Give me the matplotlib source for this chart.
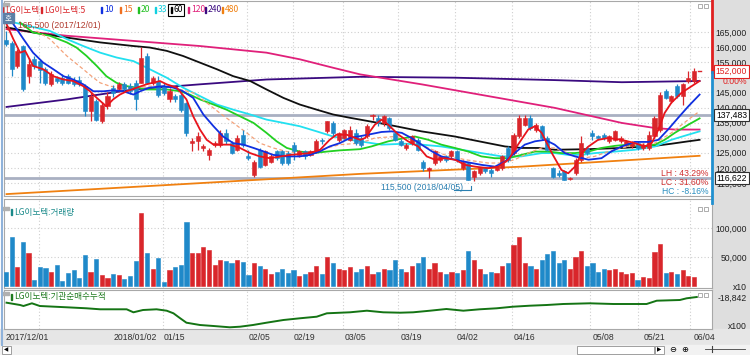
import numpy as np
import matplotlib
matplotlib.use("Agg")
import matplotlib.pyplot as plt
from matplotlib import font_manager
from matplotlib.font_manager import FontProperties
from matplotlib.patches import Rectangle, Polygon
from matplotlib.transforms import blended_transform_factory

# ---- daily candles (thousand won), 2017/12/01 .. 2018/06/04
opens_k = [162.4, 161.3, 153.8, 160.4, 150.4, 156.0, 155.5, 152.7, 147.7, 149.9,
           149.9, 150.4, 149.3, 149.3, 147.1, 138.8, 142.1, 135.5, 140.4, 146.6,
           146.0, 147.7, 147.1, 148.2, 148.2, 157.1, 148.2, 148.8, 147.1, 142.7,
           143.8, 144.3, 141.6, 128.2, 128.8, 126.6, 124.3, 127.7, 127.7, 131.6,
           128.2, 126.0, 131.0, 123.8, 117.7, 126.0, 121.0, 122.1, 125.5, 125.5,
           124.9, 127.7, 124.3, 125.5, 124.3, 125.5, 129.3, 132.1, 134.9, 129.3,
           130.0, 129.3, 131.6, 129.9, 130.4, 137.1, 136.6, 134.9, 136.6, 131.6,
           128.8, 126.6, 128.2, 129.3, 122.1, 119.3, 121.6, 122.7, 123.8, 123.8,
           125.5, 119.9, 121.6, 117.1, 118.2, 119.9, 119.3, 119.3, 119.9, 126.6,
           124.9, 130.4, 134.3, 136.6, 132.7, 133.8, 129.9, 119.9, 118.2, 118.8,
           116.3, 118.2, 122.7, 126.6, 131.6, 130.4, 131.0, 128.8, 129.3, 128.8,
           127.7, 127.1, 128.2, 126.6, 126.6, 130.4, 132.7, 145.5, 142.1, 147.1,
           143.8, 148.8, 148.8]
highs_k = [165.5, 162.0, 159.5, 160.8, 156.5, 157.1, 156.0, 153.5, 152.0, 150.5,
           151.0, 151.0, 150.0, 150.4, 147.7, 145.0, 143.0, 142.0, 145.0, 147.5,
           148.5, 148.5, 148.0, 149.0, 160.0, 158.0, 150.5, 150.5, 148.0, 146.5,
           144.5, 145.0, 142.0, 130.0, 132.0, 128.0, 126.5, 129.0, 132.5, 133.0,
           129.0, 131.0, 132.5, 126.0, 122.5, 126.5, 126.0, 124.5, 126.0, 126.0,
           125.5, 128.5, 126.0, 126.0, 126.0, 129.5, 130.0, 135.5, 135.5, 132.0,
           133.0, 134.0, 133.0, 130.5, 134.5, 138.0, 137.5, 137.6, 137.0, 132.0,
           129.5, 128.2, 131.0, 130.0, 122.7, 120.4, 126.0, 124.3, 124.3, 126.0,
           126.0, 122.7, 122.1, 119.3, 120.4, 120.4, 119.9, 121.0, 124.3, 127.2,
           131.6, 137.6, 137.6, 137.6, 135.0, 134.3, 130.4, 120.4, 119.3, 119.3,
           117.1, 123.2, 130.4, 127.2, 132.7, 131.0, 131.6, 131.0, 132.7, 130.4,
           129.3, 128.8, 128.8, 128.2, 132.1, 137.1, 145.0, 146.0, 144.3, 147.7,
           148.2, 152.1, 153.0]
lows_k = [160.5, 150.4, 153.0, 145.5, 148.2, 152.7, 148.2, 147.5, 147.0, 148.0,
          147.5, 147.7, 147.2, 147.0, 137.1, 135.5, 135.5, 135.0, 139.5, 143.5,
          145.0, 145.5, 144.5, 139.3, 148.0, 147.7, 147.5, 143.5, 144.0, 142.0,
          142.0, 138.5, 130.5, 125.5, 126.0, 125.5, 122.7, 127.0, 127.0, 128.0,
          124.5, 125.5, 127.0, 122.7, 117.1, 120.0, 120.5, 121.5, 122.5, 121.0,
          121.0, 122.7, 123.5, 123.0, 124.0, 125.0, 128.0, 131.5, 130.5, 128.5,
          129.5, 129.0, 127.5, 127.0, 130.0, 136.0, 134.0, 134.0, 132.5, 128.8,
          127.2, 126.0, 127.7, 125.5, 118.8, 116.5, 121.0, 122.1, 122.1, 123.2,
          122.1, 119.3, 116.0, 115.5, 117.7, 118.2, 117.1, 118.8, 119.3, 122.1,
          124.3, 130.0, 133.8, 132.5, 132.0, 129.3, 125.5, 116.5, 117.1, 116.0,
          116.0, 117.7, 122.1, 124.3, 129.3, 129.3, 129.3, 128.2, 128.8, 128.2,
          127.2, 126.6, 126.0, 126.0, 126.0, 130.0, 132.0, 142.7, 141.6, 143.2,
          141.0, 148.2, 148.2]
closes_k = [161.0, 152.7, 158.8, 146.0, 154.3, 153.8, 152.5, 148.2, 151.0, 148.8,
            148.2, 148.2, 147.7, 147.7, 138.8, 143.8, 136.0, 141.0, 143.8, 144.9,
            147.7, 146.0, 145.5, 142.7, 156.5, 148.2, 149.9, 144.3, 144.9, 145.5,
            142.7, 139.3, 131.6, 128.8, 130.5, 127.1, 126.0, 128.2, 131.6, 128.8,
            124.9, 129.9, 127.7, 123.2, 122.1, 120.4, 125.5, 123.8, 123.2, 121.6,
            121.6, 125.5, 125.5, 123.8, 125.5, 128.8, 128.8, 135.5, 131.6, 131.6,
            132.7, 132.7, 128.2, 127.7, 133.8, 137.6, 134.9, 137.1, 133.2, 129.3,
            127.7, 127.7, 130.4, 126.0, 119.9, 119.9, 125.5, 123.8, 122.7, 125.5,
            122.7, 122.1, 116.0, 118.8, 119.9, 118.8, 118.2, 120.4, 123.8, 122.7,
            131.0, 136.6, 136.6, 133.2, 134.3, 129.9, 126.0, 117.1, 117.7, 116.0,
            116.6, 122.7, 128.2, 124.9, 130.4, 129.9, 129.9, 130.4, 132.1, 129.9,
            128.8, 128.2, 126.6, 127.7, 131.0, 136.6, 144.3, 143.2, 143.8, 143.8,
            147.7, 149.9, 152.0]

# volume (x10 shares)
volume = [24700, 84000, 33000, 76000, 57000, 10000, 32000, 30500, 23600, 37000,
          9000, 22000, 27000, 14000, 54000, 23600, 47000, 18400, 13200, 21000,
          19500, 12000, 17800, 43000, 126000, 57000, 29000, 49000, 7000, 27000,
          32700, 36700, 111000, 57000, 57000, 67800, 62000, 36000, 45000, 43000,
          40000, 45000, 42000, 19000, 40000, 35000, 30000, 20000, 25000, 30000,
          22000, 28000, 18000, 20000, 25000, 35000, 20000, 50000, 40000, 30000,
          28000, 32000, 25000, 30000, 35000, 20000, 25000, 30000, 28000, 45000,
          30000, 25000, 35000, 40000, 50000, 30000, 40000, 25000, 20000, 25000,
          22000, 28000, 60000, 45000, 30000, 20000, 25000, 22000, 35000, 40000,
          70000, 85000, 40000, 35000, 30000, 45000, 55000, 60000, 40000, 45000,
          30000, 50000, 60000, 35000, 40000, 25000, 30000, 28000, 30000, 25000,
          20000, 22000, 10000, 16000, 14500, 59000, 72000, 22000, 25000, 20000,
          27600, 17800, 15000]

# moving averages: (day index, thousand won)
ma5_x = [0.1, 1.3, 2.5, 3.4, 4.8, 6.6, 8.4, 10.2, 11.9, 13.7, 14.9, 16.1, 17.8, 19.0,
         20.2, 21.4, 23.2, 24.9, 27.3, 28.5, 30.3, 32.0, 33.2, 34.4, 35.6, 36.8, 39.7,
         41.5, 43.3, 45.0, 46.8, 50.4, 53.9, 55.7, 57.4, 58.6, 60.4, 62.8, 63.7, 65.4,
         66.6, 67.8, 69.6, 71.3, 73.1, 74.6, 76.1, 77.8, 79.6, 81.4, 83.2, 85.5, 87.3,
         89.1, 90.8, 92.6, 93.8, 95.0, 96.8, 98.5, 99.7, 100.9, 102.1, 103.3, 105.0,
         106.8, 109.2, 111.5, 113.3, 114.5, 115.7, 116.8, 118.0, 119.8, 121.6, 123.0]
ma5_y = [167.7, 162.7, 158.2, 158.8, 153.8, 152.7, 150.4, 149.3, 148.8, 147.1, 145.4,
         143.2, 140.4, 142.7, 144.3, 145.4, 146.6, 147.7, 148.8, 147.7, 146.6, 142.7,
         137.1, 132.7, 129.3, 127.7, 127.7, 126.6, 124.9, 123.8, 123.2, 124.3, 124.9,
         126.0, 129.3, 131.0, 131.0, 129.3, 129.9, 134.3, 136.0, 134.3, 131.0, 128.8,
         127.1, 123.8, 122.7, 123.2, 122.7, 121.0, 120.4, 119.9, 120.4, 122.7, 127.7,
         132.7, 133.8, 131.6, 124.9, 119.3, 118.2, 120.4, 124.9, 127.1, 129.3, 129.9,
         129.3, 128.2, 127.1, 128.2, 132.7, 138.2, 141.6, 144.9, 147.1, 148.8]
ma10_x = [1.3, 3.1, 4.8, 6.6, 8.4, 10.2, 11.9, 13.7, 15.5, 17.3, 19.0, 20.8, 22.6, 23.8,
          25.5, 27.9, 29.7, 31.4, 33.2, 35.0, 36.8, 38.5, 40.3, 42.1, 43.9, 45.6, 47.4,
          49.8, 52.1, 53.9, 55.7, 57.4, 59.2, 61.0, 64.2, 66.6, 68.4, 70.2, 71.9, 73.7,
          75.5, 77.2, 79.6, 82.0, 84.3, 86.7, 88.5, 90.2, 92.0, 93.8, 95.6, 97.3, 99.1,
          100.9, 103.3, 105.6, 107.4, 109.2, 111.5, 113.9, 115.7, 117.4, 119.2, 121.0, 123.0]
ma10_y = [167.7, 162.7, 158.2, 154.9, 152.7, 150.4, 149.3, 147.7, 145.4, 145.4, 145.7,
          145.4, 144.3, 145.4, 146.6, 147.1, 146.6, 145.4, 143.2, 137.7, 133.8, 130.4,
          128.2, 127.7, 126.6, 125.5, 124.3, 123.8, 123.8, 124.3, 125.5, 127.1, 128.2,
          129.9, 131.0, 131.9, 132.1, 131.6, 129.9, 127.7, 125.5, 123.8, 122.7, 121.8,
          121.0, 120.4, 122.1, 124.9, 127.7, 128.8, 129.3, 127.7, 124.9, 123.8, 122.7,
          123.2, 125.5, 127.1, 128.6, 128.6, 129.3, 132.7, 136.6, 140.4, 144.3]
ma15_x = [5.4, 7.8, 10.8, 13.7, 15.5, 16.7, 18.4, 20.2, 22.6, 25.5, 28.5, 30.9, 33.2,
          35.6, 37.9, 40.3, 42.7, 45.0, 47.4, 49.8, 52.1, 54.5, 56.9, 59.2, 62.8, 65.4,
          69.0, 71.9, 74.9, 77.8, 81.4, 85.5, 87.9, 90.2, 92.6, 95.0, 97.3, 99.7, 102.1,
          104.4, 106.8, 109.2, 112.1, 115.1, 118.0, 121.0, 123.0]
ma15_y = [165.4, 162.7, 157.1, 152.7, 149.9, 148.2, 147.1, 146.6, 146.6, 147.1, 147.1,
          146.0, 144.9, 141.6, 138.2, 134.9, 131.6, 128.2, 126.6, 125.4, 124.9, 125.4,
          126.6, 127.7, 128.2, 129.9, 130.4, 129.3, 126.6, 124.3, 122.7, 121.6, 121.6,
          122.7, 124.9, 126.6, 126.6, 124.9, 123.2, 123.8, 125.4, 126.6, 127.7, 128.2,
          131.6, 136.0, 138.8]
ma20_x = [2.5, 4.8, 7.8, 10.8, 12.5, 14.3, 16.1, 17.8, 19.6, 21.4, 23.2, 24.9, 26.7,
          28.5, 30.9, 32.6, 34.4, 36.8, 39.1, 41.5, 43.9, 46.2, 48.0, 49.8, 52.1, 54.5,
          56.9, 59.2, 62.8, 64.8, 67.8, 70.7, 72.5, 74.9, 77.2, 79.6, 82.0, 84.3, 86.7,
          89.1, 91.4, 93.8, 96.2, 98.5, 100.9, 103.3, 105.6, 108.0, 110.3, 112.7, 115.1,
          116.8, 118.6, 121.0, 123.0]
ma20_y = [168.2, 164.9, 163.8, 161.6, 159.9, 157.1, 153.8, 150.4, 148.2, 147.1, 146.6,
          146.0, 146.0, 146.0, 145.4, 144.3, 142.7, 141.0, 139.3, 137.1, 134.9, 131.6,
          128.8, 126.6, 125.4, 124.9, 125.4, 125.8, 126.2, 127.1, 128.8, 129.9, 130.4,
          129.3, 127.7, 126.6, 125.4, 123.8, 123.2, 123.2, 124.3, 125.4, 125.4, 124.9,
          124.9, 125.4, 126.6, 127.3, 127.7, 127.1, 127.7, 129.3, 131.6, 134.3, 136.4]
ma33_x = [0.1, 7.8, 10.8, 13.7, 16.7, 19.6, 22.6, 25.5, 28.5, 31.4, 34.4, 37.4, 40.3,
          43.3, 46.2, 49.2, 52.1, 55.1, 58.0, 61.0, 62.8, 66.6, 70.7, 73.7, 77.2, 80.8,
          84.3, 87.9, 91.4, 95.0, 97.3, 99.7, 102.1, 104.4, 108.0, 111.5, 115.1, 118.0,
          121.0, 123.0]
ma33_y = [168.8, 165.4, 162.7, 160.4, 158.2, 156.6, 155.4, 152.7, 149.9, 146.6, 143.8,
          141.0, 139.3, 137.7, 136.0, 134.9, 133.8, 132.1, 130.4, 129.3, 128.8, 127.7,
          128.0, 127.7, 127.1, 126.0, 124.9, 123.8, 123.8, 124.9, 124.9, 124.3, 124.3,
          124.9, 125.4, 126.0, 127.1, 129.3, 131.0, 132.1]
ma60_x = [0.1, 4.8, 10.8, 16.7, 22.6, 25.5, 28.5, 31.4, 34.4, 37.4, 40.3, 43.3, 46.2,
          49.2, 52.1, 55.1, 58.0, 61.0, 62.8, 67.8, 73.7, 79.6, 85.5, 88.5, 91.4, 94.4,
          97.3, 103.3, 109.2, 115.1, 118.0, 121.0, 123.0]
ma60_y = [166.6, 164.9, 163.2, 161.6, 160.4, 159.9, 158.8, 157.1, 154.9, 152.7, 150.4,
          148.8, 146.0, 143.2, 141.0, 139.3, 137.7, 136.6, 136.0, 134.3, 132.1, 130.4,
          128.2, 127.1, 126.6, 126.6, 126.0, 126.2, 126.6, 127.3, 128.0, 128.8, 129.3]
ma120_x = [0.1, 10.8, 22.6, 34.4, 46.2, 52.1, 58.0, 62.8, 73.7, 85.5, 97.3, 109.2,
           115.1, 118.6, 123.0]
ma120_y = [166.0, 163.8, 162.1, 160.4, 158.2, 156.0, 153.2, 151.0, 147.7, 143.8, 139.9,
           134.9, 133.2, 132.7, 132.7]
ma240_x = [0.1, 10.8, 22.6, 34.4, 46.2, 62.8, 79.6, 97.3, 109.2, 123.0]
ma240_y = [140.2, 142.7, 146.0, 147.7, 149.3, 150.2, 149.9, 149.1, 148.4, 148.8]
ma480_x = [0.1, 28.5, 62.8, 91.4, 123.0]
ma480_y = [111.3, 114.3, 118.0, 120.4, 124.0]

# institutional net buying, cumulative (x100)
inst_x = [0.1, 2.5, 3.1, 4.6, 6.0, 10.8, 14.3, 16.7, 21.4, 22.6, 24.3, 26.7, 28.5,
          29.7, 30.9, 32.0, 34.4, 36.8, 39.7, 41.5, 43.8, 46.2, 49.2, 52.1, 55.1, 56.9,
          61.0, 64.0, 66.9, 69.9, 72.2, 75.2, 78.1, 81.1, 84.0, 87.0, 89.9, 92.9, 95.9,
          98.8, 103.5, 107.7, 113.6, 115.4, 119.5, 120.7, 122.5]
inst_y = [-23402, -25242, -26042, -23882, -26042, -27082, -27882, -28682, -28682, -31082,
          -29242, -28682, -29802, -31882, -35882, -39402, -41242, -42042, -43082, -42602,
          -41242, -39402, -37242, -35882, -34602, -31882, -31082, -29802, -31082, -31402,
          -31082, -29802, -28442, -29802, -28682, -27882, -26602, -25802, -25242, -24442,
          -23882, -24442, -24442, -21802, -21242, -19882, -18842]

date_idx = [0, 19, 28, 43, 51, 60, 70, 80, 90, 104, 113, 122]
date_lbl = ['2017/12/01', '2018/01/02', '01/15', '02/05', '02/19', '03/05', '03/19',
            '04/02', '04/16', '05/08', '05/21', '06/04']
grid_idx = [5.9, 27.8, 42.7, 50.9, 59.8, 69.5, 79.6, 89.7, 103.5, 112.1, 121.3]

last_price = 152000
ref_lines = [137483, 116622]
hi_price, hi_date = 165500, '2017/12/01'
lo_price, lo_date = 115500, '2018/04/05'

# ---------------------------------------------------------------
fl = font_manager.fontManager.ttflist
narrow = [f for f in fl if f.name == 'Liberation Sans Narrow' and f.style == 'normal'
          and f.weight in (400, 'normal', 'regular')]
if narrow:
    NUMFP = FontProperties(fname=narrow[0].fname, size=7.0)
else:
    NUMFP = FontProperties(family='Liberation Sans', size=6.2)
KR = ['Noto Sans CJK KR', 'DejaVu Sans']


def nf(size=None):
    fp = NUMFP.copy()
    if size is not None:
        fp.set_size(size)
    return fp


RED = '#D9262B'
BLUE = '#1F89C9'
GRID = '#CFCFCF'

o = np.array(opens_k) * 1000
h = np.array(highs_k) * 1000
l = np.array(lows_k) * 1000
c = np.array(closes_k) * 1000
vol = np.array(volume)
x = np.arange(len(c))
col = np.where(c >= o, RED, BLUE)

W, H = 750, 355
fig = plt.figure(figsize=(7.5, 3.55), dpi=100)


def px(x0, y0, x1, y1):
    return [x0 / W, 1 - y1 / H, (x1 - x0) / W, (y1 - y0) / H]


bg = fig.add_axes([0, 0, 1, 1], zorder=0)
bg.set_xlim(0, W)
bg.set_ylim(H, 0)
bg.axis('off')
bg.add_patch(Rectangle((0, 0), W, H, color='white'))
bg.add_patch(Rectangle((712, 0), 38, 330, color='#DEDEDE'))
bg.add_patch(Rectangle((0, 329), W, 16, color='#E6E6E6'))
bg.add_patch(Rectangle((0, 345), W, 10, color='#F2F2F2'))

ax_p = fig.add_axes(px(4, 1, 712, 196), zorder=2)
ax_v = fig.add_axes(px(4, 199, 712, 288), zorder=2)
ax_i = fig.add_axes(px(4, 290, 712, 329), zorder=2)
xlim = (-0.35, 125.2)

for ax in (ax_p, ax_v, ax_i):
    ax.set_xlim(*xlim)
    ax.set_xticks([])
    for g in grid_idx:
        ax.axvline(g, color=GRID, lw=0.8, ls=(0, (1, 2)), zorder=0)
    for s in ax.spines.values():
        s.set_color('#A8A8A8')
        s.set_linewidth(0.8)
    ax.tick_params(axis='y', left=False, labelleft=False, right=False,
                   labelright=True, pad=25.3, length=0)

# price panel
ax_p.set_ylim(110667, 175333)
pticks = [115000, 120000, 125000, 130000, 135000, 140000, 145000, 150000,
          155000, 160000, 165000]
ax_p.set_yticks(pticks)
ax_p.set_yticklabels(['' if t == 150000 else f'{t:,}' for t in pticks],
                     fontproperties=nf(), ha='right', color='#202020')
for t in pticks:
    ax_p.axhline(t, color=GRID, lw=0.8, ls=(0, (1, 2)), zorder=0)
for r in ref_lines:
    ax_p.axhline(r, color='#A9B0C2', lw=2, zorder=1)

ax_p.plot(ma480_x, np.array(ma480_y) * 1000, color='#F08010', lw=1.3, zorder=2)
ax_p.plot(ma240_x, np.array(ma240_y) * 1000, color='#3A0A80', lw=1.3, zorder=2)
ax_p.plot(ma120_x, np.array(ma120_y) * 1000, color='#E0207A', lw=1.3, zorder=2)
ax_p.plot(ma60_x, np.array(ma60_y) * 1000, color='#101010', lw=1.3, zorder=2)
ax_p.plot(ma33_x, np.array(ma33_y) * 1000, color='#22E0F0', lw=1.3, zorder=2)
ax_p.plot(ma20_x, np.array(ma20_y) * 1000, color='#22D022', lw=1.3, zorder=2)
ax_p.plot(ma15_x, np.array(ma15_y) * 1000, color='#F4A27A', lw=0.9,
          ls=(0, (3, 2)), zorder=2)

ax_p.vlines(x, l, h, colors=col, lw=0.9, zorder=3)
ax_p.bar(x, np.maximum(np.abs(c - o), 300), bottom=np.minimum(o, c), width=0.72,
         color=col, edgecolor=col, lw=0.4, zorder=4)
ax_p.plot(ma10_x, np.array(ma10_y) * 1000, color='#1030E0', lw=1.3, zorder=5)
ax_p.plot(ma5_x, np.array(ma5_y) * 1000, color='#E8141C', lw=1.3, zorder=5)
ax_p.plot([x[-1] + 0.7, x[-1] + 1.3], [last_price, last_price], color=RED, lw=1, zorder=5)
ax_p.spines['right'].set_visible(False)

# volume panel
ax_v.set_ylim(-3448, 150000)
ax_v.set_yticks([0, 50000, 100000])
ax_v.set_yticklabels(['x10', '50,000', '100,000'], fontproperties=nf(), ha='right',
                     color='#202020')
for t in (50000, 100000):
    ax_v.axhline(t, color=GRID, lw=0.8, ls=(0, (1, 2)), zorder=0)
ax_v.bar(x, vol, width=0.74, color=col, edgecolor=col, lw=0.4, zorder=3)

# institutional panel
ax_i.set_ylim(-44442, -13242)
ax_i.set_yticks([inst_y[-1], -41500])
ax_i.set_yticklabels([f'{inst_y[-1]:,}', 'x100'], fontproperties=nf(), ha='right',
                     color='#202020')
ax_i.plot(inst_x, inst_y, color='#147414', lw=1.4, zorder=3)

# overlay: titles, labels, markers
ov = fig.add_axes([0, 0, 1, 1], zorder=10)
ov.set_xlim(0, W)
ov.set_ylim(H, 0)
ov.axis('off')
ov.patch.set_alpha(0)
tp = blended_transform_factory(ov.transData, ax_p.transData)
tx = blended_transform_factory(ax_p.transData, ov.transData)

ov.plot([712, 712], [0, 72], color='#E02020', lw=2)
ov.plot([712, 712], [72, 203], color='#2090D0', lw=2)
ov.plot([1.5, 1.5], [0, 345], color='#8FB2DA', lw=1.5)

# legend row
legend = [('LG이노텍', RED, 5), ('LG이노텍:5', RED, 44), ('10', '#1030E0', 104),
          ('15', '#F07020', 123), ('20', '#22C022', 141), ('33', '#10D0E0', 158),
          ('60', '#000000', 174), ('120', '#E0207A', 191), ('240', '#3A0A80', 208),
          ('480', '#F08010', 225)]
for txt, cc, xx in legend:
    ov.add_patch(Rectangle((xx - 3, 7), 1.4, 6, color=cc))
    ov.text(xx, 10, txt, color=cc, fontsize=6.2, family=KR, va='center', ha='left')
ov.add_patch(Rectangle((168, 3.5), 16, 12, fill=False, ec='black', lw=0.8))
ov.add_patch(Rectangle((2, 3), 7, 3, color='#B0B0B0'))
ov.add_patch(Rectangle((2, 13), 12, 10, color='#5B7FA6'))
ov.text(8, 18, '호', color='white', fontsize=5.5, family=KR, ha='center', va='center')

ov.text(18, 25, f'{hi_price:,} ({hi_date})', color='#B03A2E', fontproperties=nf(),
        va='center')
ov.plot(8, 28, 's', color=RED, ms=2)
ov.text(381, 188, f'{lo_price:,} ({lo_date})', color='#2A7FB0', fontproperties=nf(),
        va='center')
ov.plot([454, 471, 471], [190, 190, 186], color='#2A7FB0', lw=0.8)

ov.text(708, 174, f'LH : {(hi_price - lo_price) / lo_price * 100:.2f}%', color='#D03030',
        fontproperties=nf(), ha='right', va='center')
ov.text(708, 182.5, f'LC : {(last_price - lo_price) / lo_price * 100:.2f}%', color='#D03030',
        fontproperties=nf(), ha='right', va='center')
ov.text(708, 191, f'HC : {(last_price - hi_price) / hi_price * 100:.2f}%', color='#2A8FC0',
        fontproperties=nf(), ha='right', va='center')

# right side boxes
ov.text(747, last_price, f'{last_price:,}', transform=tp, color='#E02020',
        fontproperties=nf(), ha='right', va='center',
        bbox=dict(boxstyle='square,pad=0.2', fc='white', ec='#E02020', lw=0.8))
ov.add_patch(Polygon([[712.5, 72], [717, 68], [717, 76]], color='#E02020'))
ov.text(747, 81.5, '0.00%', color='#E02020', fontproperties=nf(), ha='right',
        va='center')
for r in ref_lines:
    ov.text(747, r, f'{r:,}', transform=tp, color='black', fontproperties=nf(),
            ha='right', va='center',
            bbox=dict(boxstyle='square,pad=0.2', fc='white', ec='#303030', lw=0.8))

# panel titles
ov.add_patch(Rectangle((2, 207), 7, 3, color='#B0B0B0'))
ov.add_patch(Rectangle((11, 209), 1.4, 6, color='#1A8A8A'))
ov.text(14, 212, 'LG이노텍:거래량', color='#1A8A8A', fontsize=6.2, family=KR, va='center')
ov.add_patch(Rectangle((2, 292), 7, 3, color='#B0B0B0'))
ov.add_patch(Rectangle((11, 294), 1.4, 6, color='#1E7A1E'))
ov.text(14, 297, 'LG이노텍:기관순매수누적', color='#1E7A1E', fontsize=6.2, family=KR,
        va='center')
for yy in (4, 207, 293):
    ov.add_patch(Rectangle((698, yy), 4, 4, fill=False, ec='#A0A0A0', lw=0.6))
    ov.add_patch(Rectangle((704, yy), 4, 4, fill=False, ec='#A0A0A0', lw=0.6))

# date labels
for di, dl in zip(date_idx, date_lbl):
    ov.text(di, 338, dl, transform=tx, color='#303030', fontproperties=nf(),
            ha='left', va='center')

# toolbar
ov.add_patch(Rectangle((2, 346), 9, 8, fc='white', ec='#909090', lw=0.6))
ov.text(6.5, 350, '◀', fontsize=4, ha='center', va='center')
ov.add_patch(Rectangle((577, 346), 77, 8, fc='white', ec='#909090', lw=0.6))
ov.add_patch(Rectangle((655, 346), 9, 8, fc='white', ec='#909090', lw=0.6))
ov.text(659.5, 350, '▶', fontsize=4, ha='center', va='center')
ov.text(673, 350, '⊖', fontsize=6, ha='center', va='center')
ov.text(685, 350, '⊕', fontsize=6, ha='center', va='center')
ov.plot([705, 745], [349, 349], color='#404040', lw=0.6)
ov.plot([712, 712], [346, 352], color='#404040', lw=0.8)

fig.savefig('out.png', dpi=100)
